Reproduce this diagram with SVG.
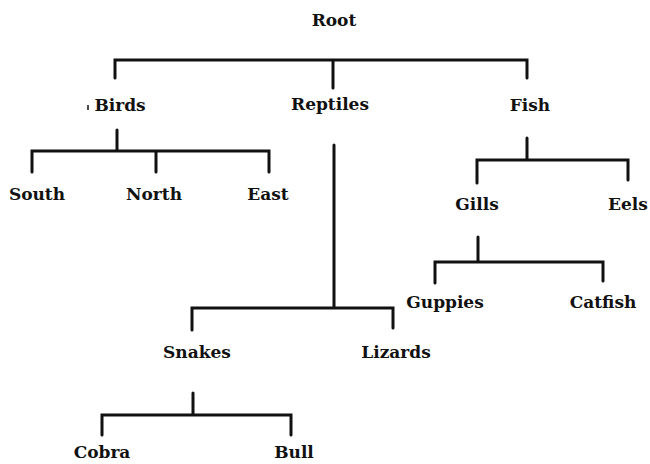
<svg xmlns="http://www.w3.org/2000/svg" width="650" height="464" viewBox="0 0 650 464">
<style>
.t{font-family:"DejaVu Serif","Liberation Serif",serif;font-weight:bold;font-size:17px;fill:#111;text-anchor:middle}
.c path{fill:none;stroke:#111;stroke-width:3;stroke-linecap:round;stroke-linejoin:miter}
</style>
<rect width="650" height="464" fill="#fff"/>
<g class="c" id="connectors">
<path d="M115,78 V60 H527 V78 M333,60 V88"/>
<path d="M117,130 V151 M32,172 V151 H269 V172 M156,151 V172"/>
<path d="M334,145 V308 M192,330 V308 H393 V328"/>
<path d="M193,393 V415 M102,435 V415 H291 V435"/>
<path d="M527,138 V160 M477,183 V160 H628 V180"/>
<path d="M478,237 V262 M435,283 V262 H603 V281"/>
</g>
<line x1="88" y1="105" x2="88" y2="110" stroke="#111" stroke-width="1.5"/>
<g id="root"><text class="t" x="334" y="26">Root</text></g>
<g id="birds"><text class="t" x="120" y="111">Birds</text></g>
<g id="reptiles"><text class="t" x="330" y="110">Reptiles</text></g>
<g id="fish"><text class="t" x="530" y="111">Fish</text></g>
<g id="south"><text class="t" x="37" y="200">South</text></g>
<g id="north"><text class="t" x="154" y="200">North</text></g>
<g id="east"><text class="t" x="268" y="200">East</text></g>
<g id="gills"><text class="t" x="477" y="210">Gills</text></g>
<g id="eels"><text class="t" x="628" y="210">Eels</text></g>
<g id="guppies"><text class="t" x="445" y="308">Guppies</text></g>
<g id="catfish"><text class="t" x="603" y="308">Catfish</text></g>
<g id="snakes"><text class="t" x="197" y="358">Snakes</text></g>
<g id="lizards"><text class="t" x="396" y="358">Lizards</text></g>
<g id="cobra"><text class="t" x="102" y="458">Cobra</text></g>
<g id="bull"><text class="t" x="294" y="458">Bull</text></g>
</svg>
